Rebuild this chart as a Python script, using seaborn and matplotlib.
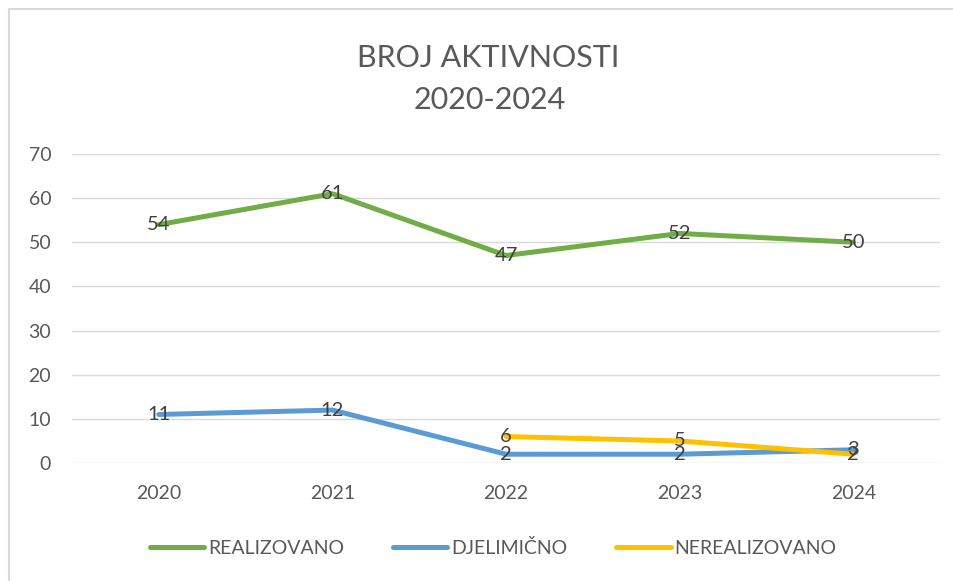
import pandas as pd
import numpy as np
import matplotlib.pyplot as plt
import seaborn as sns

# podaci sa grafikona
godine = [2020, 2021, 2022, 2023, 2024]
realizovano = [54, 61, 47, 52, 50]
djelimicno = [11, 12, 2, 2, 3]
nerealizovano = [np.nan, np.nan, 6, 5, 2]

serije = ['REALIZOVANO', 'DJELIMIČNO', 'NEREALIZOVANO']
boje = ['#70AD47', '#5B9BD5', '#FFC000']

df = pd.DataFrame({
    'godina': godine * 3,
    'vrijednost': realizovano + djelimicno + nerealizovano,
    'serija': [s for s in serije for _ in godine],
})

sns.set_style('white')
plt.rcParams['font.family'] = ['Lato', 'DejaVu Sans']

fig = plt.figure(figsize=(9.54, 5.81), dpi=100)
ax = fig.add_axes([0.0755, 0.203, 0.91, 0.532])

sns.lineplot(data=df, x='godina', y='vrijednost', hue='serija', hue_order=serije,
             palette=boje, linewidth=3.6, ax=ax, legend=False)

# oznake vrijednosti
for s in serije:
    d = df[df['serija'] == s].dropna()
    for x, y in zip(d['godina'], d['vrijednost']):
        ax.text(x, y, f'{int(y)}', ha='center', va='center', fontsize=14.5, color='#404040')

ax.set_xlim(2019.5, 2024.5)
ax.set_ylim(0, 70)
ax.set_yticks(range(0, 71, 10))
ax.set_xticks(godine)
ax.set_xticklabels([str(g) for g in godine])
ax.grid(axis='y', color='#D9D9D9', linewidth=1)
ax.set_axisbelow(True)
for sp in ax.spines.values():
    sp.set_visible(False)
ax.tick_params(axis='y', length=0, labelsize=14, labelcolor='#595959', pad=15)
ax.tick_params(axis='x', length=0, labelsize=14, labelcolor='#595959', pad=16)
ax.set_xlabel('')
ax.set_ylabel('')

fig.text(0.512, 0.9, 'BROJ AKTIVNOSTI', ha='center', va='center', fontsize=22, color='#595959')
fig.text(0.513, 0.828, '2020-2024', ha='center', va='center', fontsize=22, color='#595959')

# legenda
ruke = [plt.Line2D([], [], color=c, linewidth=3.6) for c in boje]
fig.legend(ruke, serije, loc='center', bbox_to_anchor=(0.517, 0.057), ncol=3, frameon=False,
           fontsize=14, labelcolor='#595959', handlelength=2.8, handletextpad=0.2, columnspacing=2.5)

# okvir
fig.add_artist(plt.Line2D([0.009, 0.009], [0, 0.985], color='#D9D9D9', linewidth=1.5, transform=fig.transFigure))
fig.add_artist(plt.Line2D([0.009, 1], [0.985, 0.985], color='#D9D9D9', linewidth=1.5, transform=fig.transFigure))

fig.savefig('out.png', dpi=100)
